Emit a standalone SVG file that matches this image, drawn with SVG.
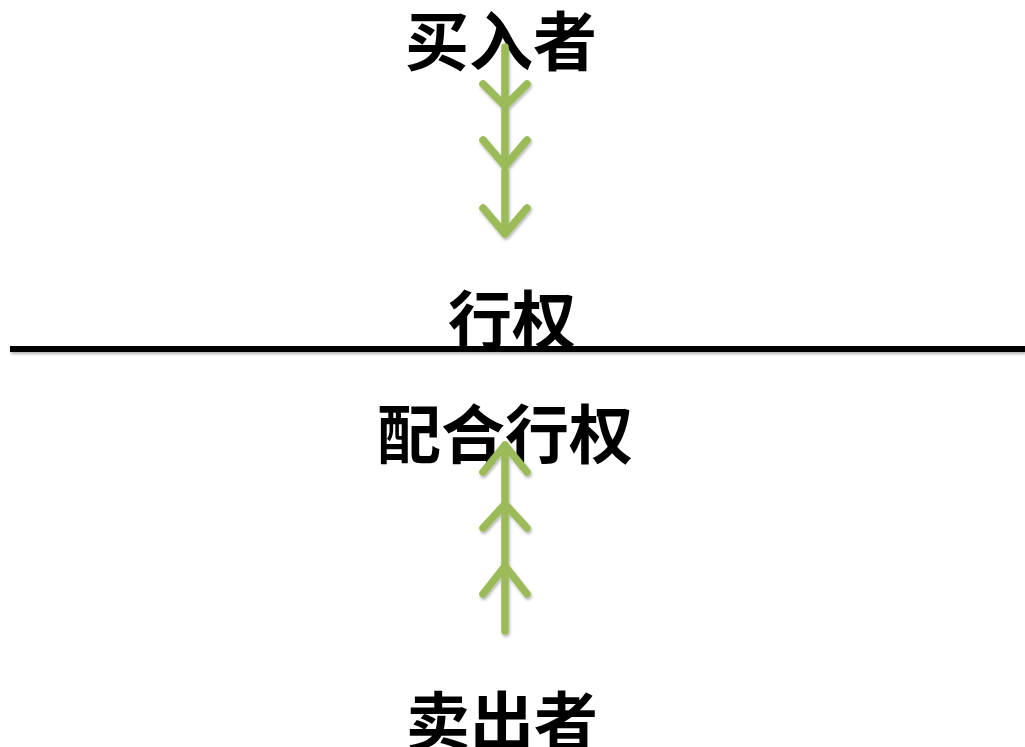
<svg xmlns="http://www.w3.org/2000/svg" width="1025" height="747" viewBox="0 0 1025 747">
<defs>
<style>
.t{font-family:"Noto Sans CJK SC","Noto Sans CJK JP",sans-serif;font-weight:bold;font-size:64px;fill:#000;text-anchor:middle}
.a{stroke:#9BBB59;stroke-width:7.5;fill:none;stroke-linecap:round;stroke-linejoin:round}
</style>
<filter id="sh" filterUnits="userSpaceOnUse" x="0" y="0" width="1025" height="747">
<feDropShadow dx="1" dy="2" stdDeviation="1.5" flood-color="#000" flood-opacity="0.3"/>
</filter>
</defs>
<rect width="1025" height="747" fill="#fff"/>
<g id="divider">
<rect x="10" y="346" width="1015" height="6" fill="#000" filter="url(#sh)"/>
</g>
<g id="buyer"><text class="t" x="501" y="65">买入者</text></g>
<g id="exercise"><text class="t" x="512" y="344">行权</text></g>
<g id="assign"><text class="t" x="505" y="458">配合行权</text></g>
<g id="seller"><text class="t" x="502" y="745">卖出者</text></g>
<g id="connectors" filter="url(#sh)">
<path class="a" d="M505,47 V106 M483,84 L505,106 L527,84"/>
<path class="a" d="M505,108 V166 M483,140 L505,166 L527,140"/>
<path class="a" d="M505,171 V234 M483,208 L505,234 L527,208"/>
<path class="a" d="M505,631 V566 M483,594 L505,566 L527,594"/>
<path class="a" d="M505,564 V504 M483,528 L505,504 L527,528"/>
<path class="a" d="M505,502 V445 M483,472 L505,445 L527,472"/>
</g>
</svg>
